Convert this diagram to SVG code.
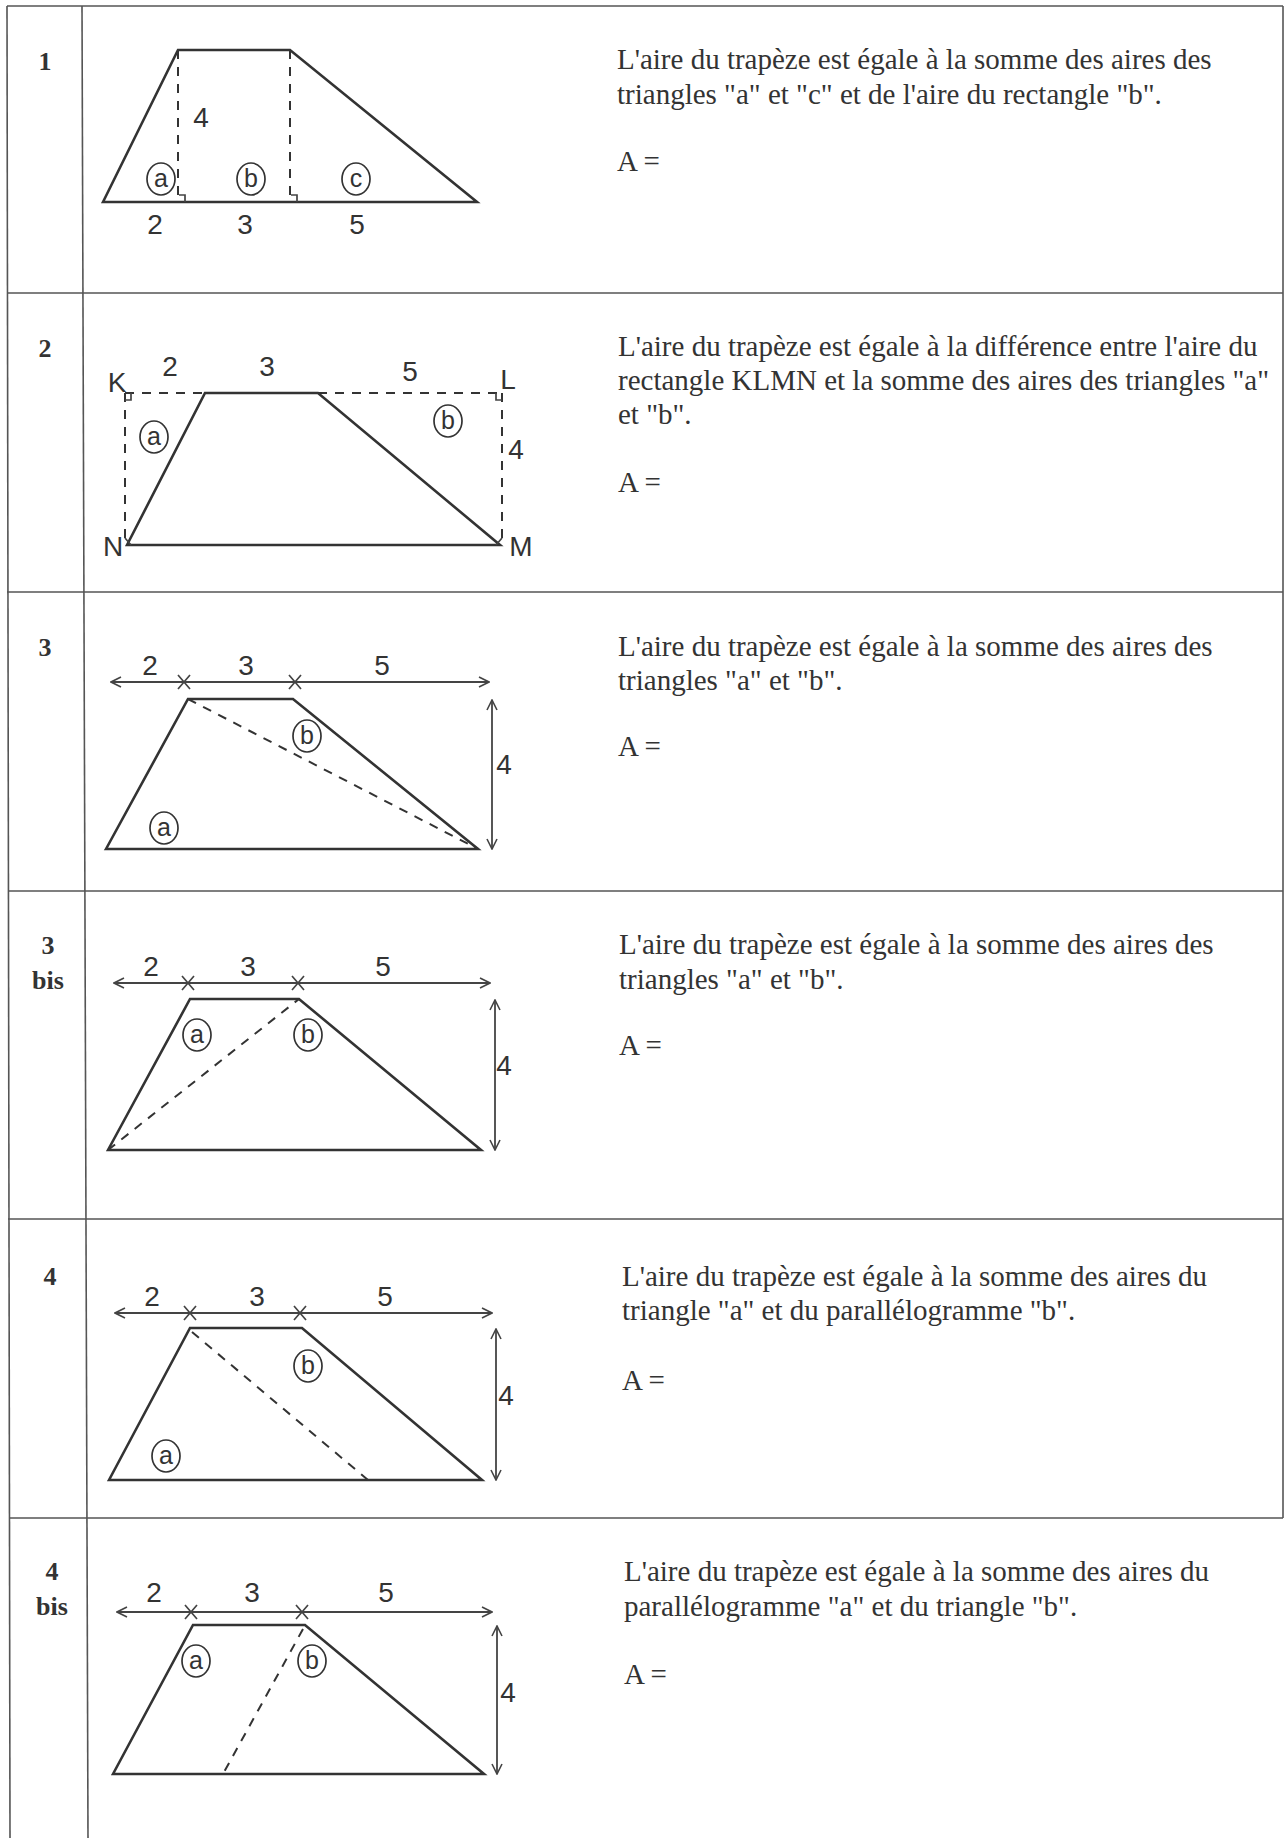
<svg xmlns="http://www.w3.org/2000/svg" width="1285" height="1838" viewBox="0 0 1285 1838">
<style>
.grid{stroke:#555;stroke-width:1.6;fill:none}
.shape{stroke:#333;stroke-width:2.6;fill:none;stroke-linejoin:miter}
.dash{stroke:#333;stroke-width:2;fill:none;stroke-dasharray:9,8}
.dim{stroke:#444;stroke-width:1.8;fill:none}
.tick{stroke:#444;stroke-width:1.7;fill:none}
.circ{stroke:#333;stroke-width:1.7;fill:none}
.num{font-family:"Liberation Serif",serif;font-weight:bold;font-size:26px;fill:#333;text-anchor:middle}
.txt{font-family:"Liberation Serif",serif;font-size:29px;fill:#333}
.lab{font-family:"Liberation Sans",Arial,sans-serif;font-size:28px;fill:#333;text-anchor:middle}
.cl{font-family:"Liberation Sans",Arial,sans-serif;font-size:25px;fill:#333;text-anchor:middle}
</style>
<defs>
<marker id="arr" viewBox="0 0 12 12" refX="11" refY="6" markerWidth="12" markerHeight="12" markerUnits="userSpaceOnUse" orient="auto-start-reverse">
<path d="M1,1 L11,6 L1,11" fill="none" stroke="#444" stroke-width="1.6"/>
</marker>
<g id="x"><path d="M-6,-7 L6,7 M6,-7 L-6,7" class="tick"/></g>
</defs>
<rect width="1285" height="1838" fill="#fff"/>

<g id="table">
<line class="grid" x1="7" y1="6" x2="1283" y2="6"/>
<line class="grid" x1="7" y1="6" x2="10" y2="1838"/>
<line class="grid" x1="82" y1="6" x2="88" y2="1838"/>
<line class="grid" x1="1283" y1="6" x2="1283" y2="1518"/>
<line class="grid" x1="7" y1="293" x2="1283" y2="293"/>
<line class="grid" x1="7" y1="592" x2="1283" y2="592"/>
<line class="grid" x1="8" y1="891" x2="1283" y2="891"/>
<line class="grid" x1="8" y1="1219" x2="1283" y2="1219"/>
<line class="grid" x1="9" y1="1518" x2="1283" y2="1518"/>
</g>

<g id="row1">
<text class="num" x="45" y="70">1</text>
<path class="shape" d="M103,202 L178,50 L290,50 L477,202 Z"/>
<line class="dash" x1="178" y1="50" x2="178" y2="202"/>
<line class="dash" x1="290" y1="50" x2="290" y2="202"/>
<path class="tick" d="M179,195 L185,195 L185,202 M291,195 L297,195 L297,202"/>
<text class="lab" x="201" y="127">4</text>
<ellipse class="circ" cx="161" cy="179" rx="14" ry="16"/><text class="cl" x="161" y="187">a</text>
<ellipse class="circ" cx="251" cy="179" rx="14" ry="16"/><text class="cl" x="251" y="187">b</text>
<ellipse class="circ" cx="356" cy="179" rx="14" ry="16"/><text class="cl" x="356" y="187">c</text>
<text class="lab" x="155" y="234">2</text>
<text class="lab" x="245" y="234">3</text>
<text class="lab" x="357" y="234">5</text>
<text class="txt" x="617" y="69">L'aire du trapèze est égale à la somme des aires des</text>
<text class="txt" x="617" y="104">triangles "a" et "c" et de l'aire du rectangle "b".</text>
<text class="txt" x="617" y="171">A =</text>
</g>

<g id="row2">
<text class="num" x="45" y="357">2</text>
<line class="dash" x1="125" y1="393" x2="205" y2="393"/>
<line class="dash" x1="318" y1="393" x2="502" y2="393"/>
<line class="dash" x1="125" y1="393" x2="125" y2="545"/>
<line class="dash" x1="502" y1="393" x2="502" y2="545"/>
<path class="shape" d="M127,545 L205,393 L318,393 L500,545 Z"/>
<path class="tick" d="M125,400 L131,400 L131,393 M502,400 L496,400 L496,393 M125,538 L131,545 M502,538 L496,545"/>
<text class="lab" x="117" y="392">K</text>
<text class="lab" x="508" y="389">L</text>
<text class="lab" x="113" y="556">N</text>
<text class="lab" x="521" y="556">M</text>
<text class="lab" x="170" y="376">2</text>
<text class="lab" x="267" y="376">3</text>
<text class="lab" x="410" y="381">5</text>
<text class="lab" x="516" y="459">4</text>
<ellipse class="circ" cx="154" cy="437" rx="14" ry="16"/><text class="cl" x="154" y="445">a</text>
<ellipse class="circ" cx="448" cy="421" rx="14" ry="16"/><text class="cl" x="448" y="429">b</text>
<text class="txt" x="618" y="356">L'aire du trapèze est égale à la différence entre l'aire du</text>
<text class="txt" x="618" y="390">rectangle KLMN et la somme des aires des triangles "a"</text>
<text class="txt" x="618" y="424">et "b".</text>
<text class="txt" x="618" y="492">A =</text>
</g>

<g id="row3">
<text class="num" x="45" y="656">3</text>
<line class="dim" x1="111" y1="682" x2="489" y2="682" marker-start="url(#arr)" marker-end="url(#arr)"/>
<use href="#x" x="184" y="682"/><use href="#x" x="295" y="682"/>
<line class="dim" x1="492" y1="700" x2="492" y2="849" marker-start="url(#arr)" marker-end="url(#arr)"/>
<path class="shape" d="M106,849 L188,699 L293,699 L478,849 Z"/>
<line class="dash" x1="188" y1="699" x2="478" y2="849"/>
<text class="lab" x="150" y="675">2</text>
<text class="lab" x="246" y="675">3</text>
<text class="lab" x="382" y="675">5</text>
<text class="lab" x="504" y="774">4</text>
<ellipse class="circ" cx="164" cy="828" rx="14" ry="16"/><text class="cl" x="164" y="836">a</text>
<ellipse class="circ" cx="307" cy="736" rx="14" ry="16"/><text class="cl" x="307" y="744">b</text>
<text class="txt" x="618" y="656">L'aire du trapèze est égale à la somme des aires des</text>
<text class="txt" x="618" y="690">triangles "a" et "b".</text>
<text class="txt" x="618" y="756">A =</text>
</g>

<g id="row3bis">
<text class="num" x="48" y="954">3</text>
<text class="num" x="48" y="989">bis</text>
<line class="dim" x1="114" y1="983" x2="490" y2="983" marker-start="url(#arr)" marker-end="url(#arr)"/>
<use href="#x" x="188" y="983"/><use href="#x" x="298" y="983"/>
<line class="dim" x1="495" y1="1000" x2="495" y2="1150" marker-start="url(#arr)" marker-end="url(#arr)"/>
<path class="shape" d="M108,1150 L190,999 L299,999 L481,1150 Z"/>
<line class="dash" x1="108" y1="1150" x2="299" y2="999"/>
<text class="lab" x="151" y="976">2</text>
<text class="lab" x="248" y="976">3</text>
<text class="lab" x="383" y="976">5</text>
<text class="lab" x="504" y="1075">4</text>
<ellipse class="circ" cx="197" cy="1035" rx="14" ry="16"/><text class="cl" x="197" y="1043">a</text>
<ellipse class="circ" cx="308" cy="1035" rx="14" ry="16"/><text class="cl" x="308" y="1043">b</text>
<text class="txt" x="619" y="954">L'aire du trapèze est égale à la somme des aires des</text>
<text class="txt" x="619" y="989">triangles "a" et "b".</text>
<text class="txt" x="619" y="1055">A =</text>
</g>

<g id="row4">
<text class="num" x="50" y="1285">4</text>
<line class="dim" x1="115" y1="1313" x2="492" y2="1313" marker-start="url(#arr)" marker-end="url(#arr)"/>
<use href="#x" x="190" y="1313"/><use href="#x" x="300" y="1313"/>
<line class="dim" x1="496" y1="1329" x2="496" y2="1480" marker-start="url(#arr)" marker-end="url(#arr)"/>
<path class="shape" d="M109,1480 L190,1328 L302,1328 L482,1480 Z"/>
<line class="dash" x1="192" y1="1332" x2="368" y2="1480"/>
<text class="lab" x="152" y="1306">2</text>
<text class="lab" x="257" y="1306">3</text>
<text class="lab" x="385" y="1306">5</text>
<text class="lab" x="506" y="1405">4</text>
<ellipse class="circ" cx="166" cy="1456" rx="14" ry="16"/><text class="cl" x="166" y="1464">a</text>
<ellipse class="circ" cx="308" cy="1366" rx="14" ry="16"/><text class="cl" x="308" y="1374">b</text>
<text class="txt" x="622" y="1286">L'aire du trapèze est égale à la somme des aires du</text>
<text class="txt" x="622" y="1320">triangle "a" et du parallélogramme "b".</text>
<text class="txt" x="622" y="1390">A =</text>
</g>

<g id="row4bis">
<text class="num" x="52" y="1580">4</text>
<text class="num" x="52" y="1615">bis</text>
<line class="dim" x1="117" y1="1612" x2="492" y2="1612" marker-start="url(#arr)" marker-end="url(#arr)"/>
<use href="#x" x="191" y="1612"/><use href="#x" x="302" y="1612"/>
<line class="dim" x1="497" y1="1626" x2="497" y2="1774" marker-start="url(#arr)" marker-end="url(#arr)"/>
<path class="shape" d="M113,1774 L193,1625 L305,1625 L484,1774 Z"/>
<line class="dash" x1="303" y1="1629" x2="223" y2="1774"/>
<text class="lab" x="154" y="1602">2</text>
<text class="lab" x="252" y="1602">3</text>
<text class="lab" x="386" y="1602">5</text>
<text class="lab" x="508" y="1702">4</text>
<ellipse class="circ" cx="196" cy="1661" rx="14" ry="16"/><text class="cl" x="196" y="1669">a</text>
<ellipse class="circ" cx="312" cy="1661" rx="14" ry="16"/><text class="cl" x="312" y="1669">b</text>
<text class="txt" x="624" y="1581">L'aire du trapèze est égale à la somme des aires du</text>
<text class="txt" x="624" y="1616">parallélogramme "a" et du triangle "b".</text>
<text class="txt" x="624" y="1684">A =</text>
</g>
</svg>
